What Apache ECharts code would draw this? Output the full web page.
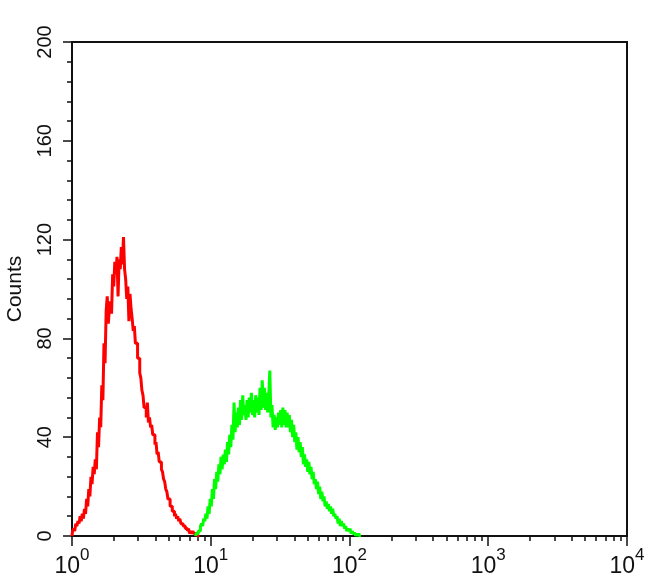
<!DOCTYPE html>
<html>
<head>
<meta charset="utf-8">
<script src="https://cdn.jsdelivr.net/npm/echarts@6/dist/echarts.min.js"></script>
<style>
html,body{margin:0;padding:0;background:#fff;}
#chart{width:650px;height:585px;}
</style>
</head>
<body>
<div id="chart"></div>
<script>
// Histogram channels: 128 bins per decade of fluorescence, starting at 10^0
const binsPerDecade = 128;
const redStartBin = 0;
const redCounts = [0,2,3,2,5,4,6,5,8,6,9,7,11,9,15,12,19,16,24,21,28,25,31,27,42,36,48,44,61,55,
  78,70,91,97,86,92,95,90,106,101,111,106,113,97,112,108,117,110,121,108,104,96,101,87,98,92,88,83,85,78,
  78,72,72,66,64,59,57,52,52,48,54,46,48,44,45,41,41,37,38,33,34,30,30,27,26,23,22,19,18,15,
  15,12,12,10,10,8,9,7,8,6,7,5,5,4,4,3,3,2,3,1,2,1,2,1,1,0,1,0,0];
const greenStartBin = 114;
const greenCounts = [0,1,1,2,2,4,5,4,7,6,9,7,12,9,15,12,19,15,23,19,26,22,29,25,32,27,33,29,35,30,
  38,33,41,36,45,39,54,42,50,44,52,45,55,47,57,49,53,47,55,48,56,50,58,49,55,48,57,50,56,49,
  60,51,63,52,60,51,58,50,57,67,48,53,44,49,43,48,44,50,45,51,44,52,45,51,44,50,
  44,49,42,47,40,45,38,42,35,40,34,38,32,36,29,33,28,31,26,30,25,28,23,26,21,23,19,22,17,20,15,
  18,14,16,12,14,11,13,10,12,9,11,8,9,7,8,5,7,4,6,4,5,3,4,2,3,2,3,1,2,1,1,0,1,0,1,0,0];
const majorTicks = [1, 10, 100, 1000, 10000];
const majorExponents = ['0', '1', '2', '3', '4'];
const minorTicks = [2,3,4,5,6,7,8,9,20,30,40,50,60,70,80,90,200,300,400,500,600,700,800,900,
  2000,3000,4000,5000,6000,7000,8000,9000];

function toSeries(startBin, counts) {
  return counts.map((c, k) => [Math.pow(10, (startBin + k) / binsPerDecade), c]);
}

const chart = echarts.init(document.getElementById('chart'), null, {renderer: 'canvas'});
const font = 'Liberation Sans';
chart.setOption({
  backgroundColor: '#ffffff',
  animation: false,
  grid: {left: 72, right: 23, top: 42, bottom: 49, outerBoundsMode: 'none', containLabel: false,
    show: true, borderColor: '#111', borderWidth: 2, backgroundColor: 'transparent'},
  xAxis: [{
    type: 'log', logBase: 10, min: 1, max: 10000, position: 'bottom',
    axisLine: {show: true, onZero: false, lineStyle: {color: '#111', width: 2}},
    axisTick: {show: true, inside: false, length: 10, customValues: majorTicks, lineStyle: {color: '#111', width: 1.5}},
    splitLine: {show: false},
    axisLabel: {
      customValues: majorTicks,
      margin: 11,
      color: '#111',
      formatter: function (v) {
        const idx = majorTicks.indexOf(Math.round(v));
        const e = idx >= 0 ? majorExponents[idx] : '';
        return '{a|10}{b|' + e + '}';
      },
      rich: {
        a: {fontSize: 23, fontFamily: font, color: '#111', lineHeight: 26, verticalAlign: 'bottom'},
        b: {fontSize: 17, fontFamily: font, color: '#111', verticalAlign: 'bottom', padding: [0, 0, 14, 0]}
      }
    }
  }, {
    type: 'log', logBase: 10, min: 1, max: 10000, position: 'bottom',
    axisLine: {show: false, onZero: false},
    axisTick: {show: true, inside: false, length: 5, customValues: minorTicks, lineStyle: {color: '#111', width: 1.5}},
    axisLabel: {show: false},
    splitLine: {show: false}
  }],
  yAxis: {
    type: 'value', min: 0, max: 200, interval: 40,
    name: 'Counts', nameLocation: 'middle', nameGap: 46, nameRotate: 90,
    nameTextStyle: {fontSize: 21, fontFamily: font, color: '#111'},
    axisLine: {show: true, onZero: false, lineStyle: {color: '#111', width: 2}},
    axisTick: {show: true, inside: false, length: 9, lineStyle: {color: '#111', width: 1.5}},
    minorTick: {show: true, splitNumber: 5, length: 5, lineStyle: {color: '#111', width: 1.5}},
    splitLine: {show: false},
    minorSplitLine: {show: false},
    axisLabel: {rotate: 90, margin: 17, fontSize: 20, fontFamily: font, color: '#111'}
  },
  series: [{
    type: 'line', name: 'control', xAxisIndex: 0, step: 'middle', showSymbol: false,
    data: toSeries(redStartBin, redCounts),
    lineStyle: {color: '#ff0000', width: 3}, itemStyle: {color: '#ff0000'}, z: 3
  }, {
    type: 'line', name: 'sample', xAxisIndex: 0, step: 'middle', showSymbol: false,
    data: toSeries(greenStartBin, greenCounts),
    lineStyle: {color: '#00ff00', width: 3}, itemStyle: {color: '#00ff00'}, z: 4
  }]
});
</script>
</body>
</html>
